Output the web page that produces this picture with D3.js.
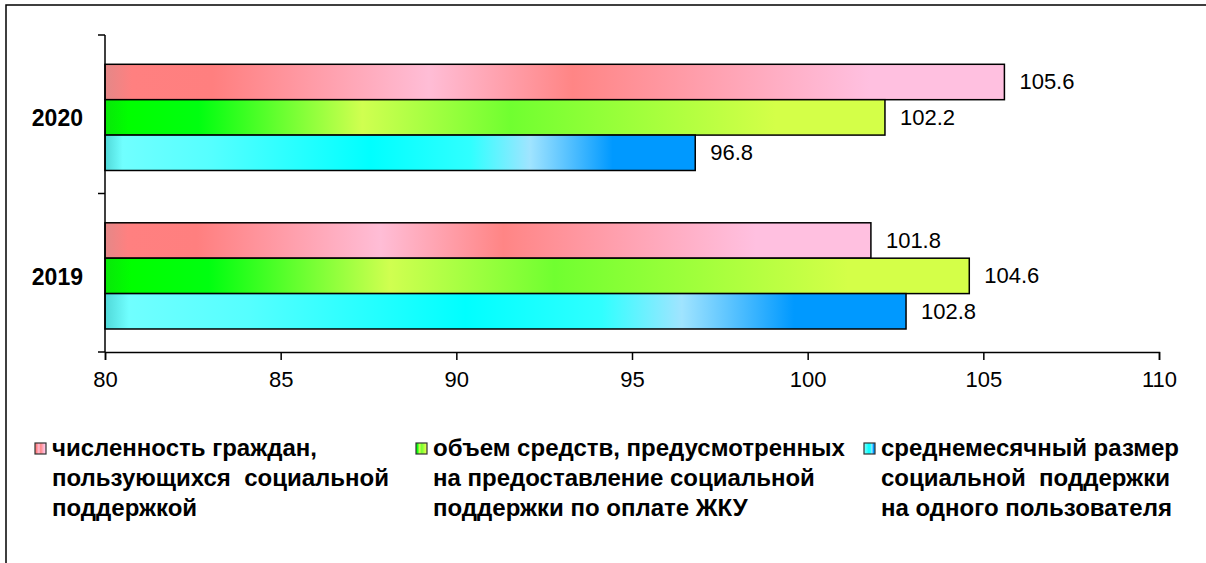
<!DOCTYPE html>
<html>
<head>
<meta charset="utf-8">
<script src="https://cdn.jsdelivr.net/npm/d3@7"></script>
<style>
  body { margin: 0; background: #fff; }
  svg { display: block; font-family: Arial, "Liberation Sans", sans-serif; }
</style>
</head>
<body>
<div id="chart"></div>
<script>
const years = ['2020', '2019'];
const seriesKeys = ['people', 'funds', 'average'];
const peopleValues = [105.6, 101.8];
const fundsValues = [102.2, 104.6];
const averageValues = [96.8, 102.8];
const xTicks = [80, 85, 90, 95, 100, 105, 110];
const legendLines = [
  ['численность граждан,', 'пользующихся  социальной', 'поддержкой'],
  ['объем средств, предусмотренных', 'на предоставление социальной', 'поддержки по оплате ЖКУ'],
  ['среднемесячный размер', 'социальной  поддержки', 'на одного пользователя']
];

const valuesByKey = { people: peopleValues, funds: fundsValues, average: averageValues };

// gradient stops per series (Excel-like multi-stop fills)
const gradStops = {
  people: [[0, '#e48888'], [0.03, '#ff8080'], [0.12, '#ff7f7f'], [0.36, '#ffbdd6'], [0.52, '#ff8585'], [0.85, '#ffc0e0'], [1, '#ffc0e0']],
  funds: [[0, '#08e808'], [0.03, '#00ff00'], [0.12, '#00ff10'], [0.33, '#d0ff50'], [0.52, '#70ff30'], [0.86, '#d4ff48'], [1, '#d4ff48']],
  average: [[0, '#50d8d8'], [0.03, '#70ffff'], [0.18, '#55ffff'], [0.45, '#00ffff'], [0.62, '#30ffff'], [0.72, '#a0e4ff'], [0.86, '#0099ff'], [1, '#0099ff']]
};

const width = 1206, height = 563;
const svg = d3.select('#chart').append('svg')
  .attr('width', width).attr('height', height);

const defs = svg.append('defs');
seriesKeys.forEach(k => {
  const g = defs.append('linearGradient').attr('id', 'grad-' + k)
    .attr('x1', 0).attr('x2', 1).attr('y1', 0).attr('y2', 0);
  gradStops[k].forEach(s => g.append('stop').attr('offset', s[0]).attr('stop-color', s[1]));
});

// outer frame
svg.append('rect').attr('x', 6).attr('y', 5).attr('width', 1210).attr('height', 570)
  .attr('fill', 'none').attr('stroke', '#000').attr('stroke-width', 1.5);

const x = d3.scaleLinear().domain([80, 110]).range([105, 1159]);
const y = d3.scaleBand().domain(years).range([35, 352])
  .paddingInner(0.33).paddingOuter(0.165).align(0.56);
const ySub = d3.scaleBand().domain(seriesKeys).range([0, y.bandwidth()]);

// bars
years.forEach((yr, i) => {
  const g = svg.append('g').attr('transform', `translate(0,${y(yr)})`);
  seriesKeys.forEach(k => {
    const v = valuesByKey[k][i];
    g.append('rect')
      .attr('x', x(80)).attr('y', ySub(k))
      .attr('width', x(v) - x(80)).attr('height', ySub.bandwidth())
      .attr('fill', `url(#grad-${k})`)
      .attr('stroke', '#000').attr('stroke-width', 1.5);
    g.append('text')
      .attr('x', x(v) + 15).attr('y', ySub(k) + ySub.bandwidth() / 2)
      .attr('dominant-baseline', 'central')
      .attr('font-size', 22).attr('fill', '#000')
      .text(v.toFixed(1));
  });
});

// x axis
const xAxis = svg.append('g').attr('transform', 'translate(0,352)')
  .call(d3.axisBottom(x).tickValues(xTicks).tickSize(8).tickPadding(11).tickFormat(d3.format('d')));
xAxis.select('.domain').attr('stroke', '#000').attr('stroke-width', 1.5);
xAxis.selectAll('.tick line').attr('stroke', '#000').attr('stroke-width', 1.5);
xAxis.selectAll('.tick text').attr('font-size', 22).attr('font-family', 'Arial, "Liberation Sans", sans-serif').attr('fill', '#000');

// y axis: line with separator ticks between categories
const yBoundaries = [35, 193.5, 352];
svg.append('line').attr('x1', x(80)).attr('x2', x(80)).attr('y1', 35).attr('y2', 352)
  .attr('stroke', '#000').attr('stroke-width', 1.5);
svg.selectAll('.ytick').data(yBoundaries).join('line')
  .attr('x1', x(80) - 7).attr('x2', x(80)).attr('y1', d => d).attr('y2', d => d)
  .attr('stroke', '#000').attr('stroke-width', 1.5);
svg.selectAll('.ylab').data(years).join('text')
  .attr('x', 83).attr('y', d => y(d) + y.bandwidth() / 2 + 1)
  .attr('text-anchor', 'end').attr('dominant-baseline', 'central')
  .attr('font-size', 23).attr('font-weight', 'bold').attr('fill', '#000')
  .text(d => d);

// legend
const legendX = [35, 416, 864];
seriesKeys.forEach((k, i) => {
  const lg = svg.append('g').attr('transform', `translate(${legendX[i]},443)`);
  lg.append('rect').attr('x', 0).attr('y', 0).attr('width', 11).attr('height', 11)
    .attr('fill', `url(#grad-${k})`).attr('stroke', '#333').attr('stroke-width', 1.2);
  lg.append('text').attr('x', 17).attr('y', 13)
    .attr('font-size', 24).attr('font-weight', 'bold').attr('fill', '#000')
    .attr('xml:space', 'preserve')
    .selectAll('tspan').data(legendLines[i]).join('tspan')
    .attr('x', 17).attr('dy', (d, j) => j === 0 ? 0 : 30)
    .text(d => d);
});
</script>
</body>
</html>
